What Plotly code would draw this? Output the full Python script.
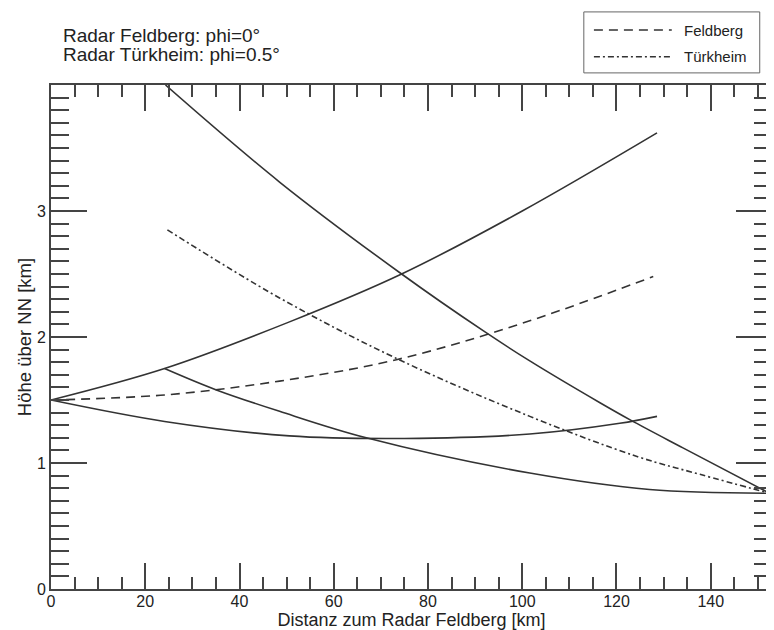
import plotly.graph_objects as go

# Feldberg radar (phi = 0 deg): beam upper edge, centre, lower edge
feld_upper_x = [0, 24.1, 50.6, 74.4, 100, 128.6]
feld_upper_y = [1.5, 1.75, 2.12, 2.50, 3.0, 3.62]
feld_center_x = [0, 24.1, 48.5, 73.3, 100.1, 127.8]
feld_center_y = [1.5, 1.54, 1.65, 1.82, 2.11, 2.48]
feld_lower_x = [0, 24.1, 50.6, 75, 101.6, 120.7, 128.6]
feld_lower_y = [1.5, 1.33, 1.215, 1.195, 1.23, 1.315, 1.37]

# Türkheim radar (phi = 0.5 deg): beam upper edge, centre, lower edge
turk_upper_x = [24.3, 48.5, 74.4, 91.7, 101.6, 116.4, 123, 134.1, 152.5]
turk_upper_y = [4.0, 3.23, 2.50, 2.05, 1.81, 1.48, 1.34, 1.12, 0.76]
turk_center_x = [24.7, 48.5, 73.3, 101.6, 124.5, 137.7, 152.5]
turk_center_y = [2.85, 2.31, 1.83, 1.37, 1.05, 0.91, 0.76]
turk_lower_x = [24.1, 35.1, 48.5, 66.9, 101.6, 127, 152.5]
turk_lower_y = [1.75, 1.58, 1.41, 1.20, 0.92, 0.79, 0.76]

x_ticks = [0, 20, 40, 60, 80, 100, 120, 140]
y_ticks = [0, 1, 2, 3]

LINE = "#333333"
TXT = "#222222"
FONT = "Liberation Sans, Arial, sans-serif"

fig = go.Figure()

def add(x, y, dash):
    fig.add_trace(go.Scatter(x=x, y=y, mode="lines",
                             line=dict(color=LINE, width=1.6, dash=dash, shape="spline", smoothing=1.0),
                             showlegend=False, hoverinfo="skip"))

add(feld_upper_x, feld_upper_y, "solid")
add(feld_center_x, feld_center_y, "9px,6px")
add(feld_lower_x, feld_lower_y, "solid")
add(turk_upper_x, turk_upper_y, "solid")
add(turk_center_x, turk_center_y, "6px,3px,2px,3px")
add(turk_lower_x, turk_lower_y, "solid")

axis_common = dict(showline=True, linecolor="#444444", linewidth=2, mirror="allticks",
                   ticks="inside", tickcolor="#444444", tickwidth=1.5,
                   showgrid=False, zeroline=False, automargin=False,
                   tickfont=dict(family=FONT, size=16, color=TXT))

fig.update_xaxes(range=[0, 153], tickmode="array", tickvals=x_ticks, ticklen=26,
                 ticklabelstandoff=-3,
                 minor=dict(dtick=5, tick0=0, ticklen=12, ticks="inside", tickcolor="#444444", tickwidth=1.5),
                 title=dict(text="Distanz zum Radar Feldberg [km]", standoff=4,
                            font=dict(family=FONT, size=18, color=TXT)),
                 **axis_common)
fig.update_yaxes(range=[0, 4], tickmode="array", tickvals=y_ticks, ticklen=36,
                 minor=dict(dtick=0.1, tick0=0, ticklen=18, ticks="inside", tickcolor="#444444", tickwidth=1.5),
                 title=dict(text="Höhe über NN [km]", standoff=0,
                            font=dict(family=FONT, size=18.5, color=TXT)),
                 **axis_common)

# Legend drawn as a boxed key
shapes = [
    dict(type="rect", xref="paper", yref="paper", x0=0.739, x1=0.983, y0=1.024, y1=1.145,
         line=dict(color="#666666", width=1), fillcolor="white"),
    dict(type="line", xref="paper", yref="paper", x0=0.753, x1=0.861, y0=1.109, y1=1.109,
         line=dict(color=LINE, width=1.6, dash="9px,6px")),
    dict(type="line", xref="paper", yref="paper", x0=0.753, x1=0.861, y0=1.056, y1=1.056,
         line=dict(color=LINE, width=1.6, dash="6px,3px,2px,3px")),
]
annotations = [
    dict(text="Feldberg", xref="paper", yref="paper", x=0.875, y=1.109, xanchor="left", yanchor="middle",
         showarrow=False, font=dict(family=FONT, size=15, color=TXT)),
    dict(text="Türkheim", xref="paper", yref="paper", x=0.875, y=1.056, xanchor="left", yanchor="middle",
         showarrow=False, font=dict(family=FONT, size=15, color=TXT)),
    dict(text="Radar Feldberg: phi=0°", xref="paper", yref="paper",
         x=0.014, y=(589 - 36) / 504, xanchor="left", yanchor="middle", showarrow=False,
         font=dict(family=FONT, size=19, color=TXT)),
    dict(text="Radar Türkheim: phi=0.5°", xref="paper", yref="paper",
         x=0.014, y=(589 - 54) / 504, xanchor="left", yanchor="middle", showarrow=False,
         font=dict(family=FONT, size=19, color=TXT)),
]

# page body has an 8px margin, so the figure is sized to fill the 774x630 window exactly
fig.update_layout(width=766, height=622, margin=dict(l=43, r=2, t=77, b=41),
                  plot_bgcolor="white", paper_bgcolor="white",
                  shapes=shapes, annotations=annotations, showlegend=False)

fig.write_html("out.html")
